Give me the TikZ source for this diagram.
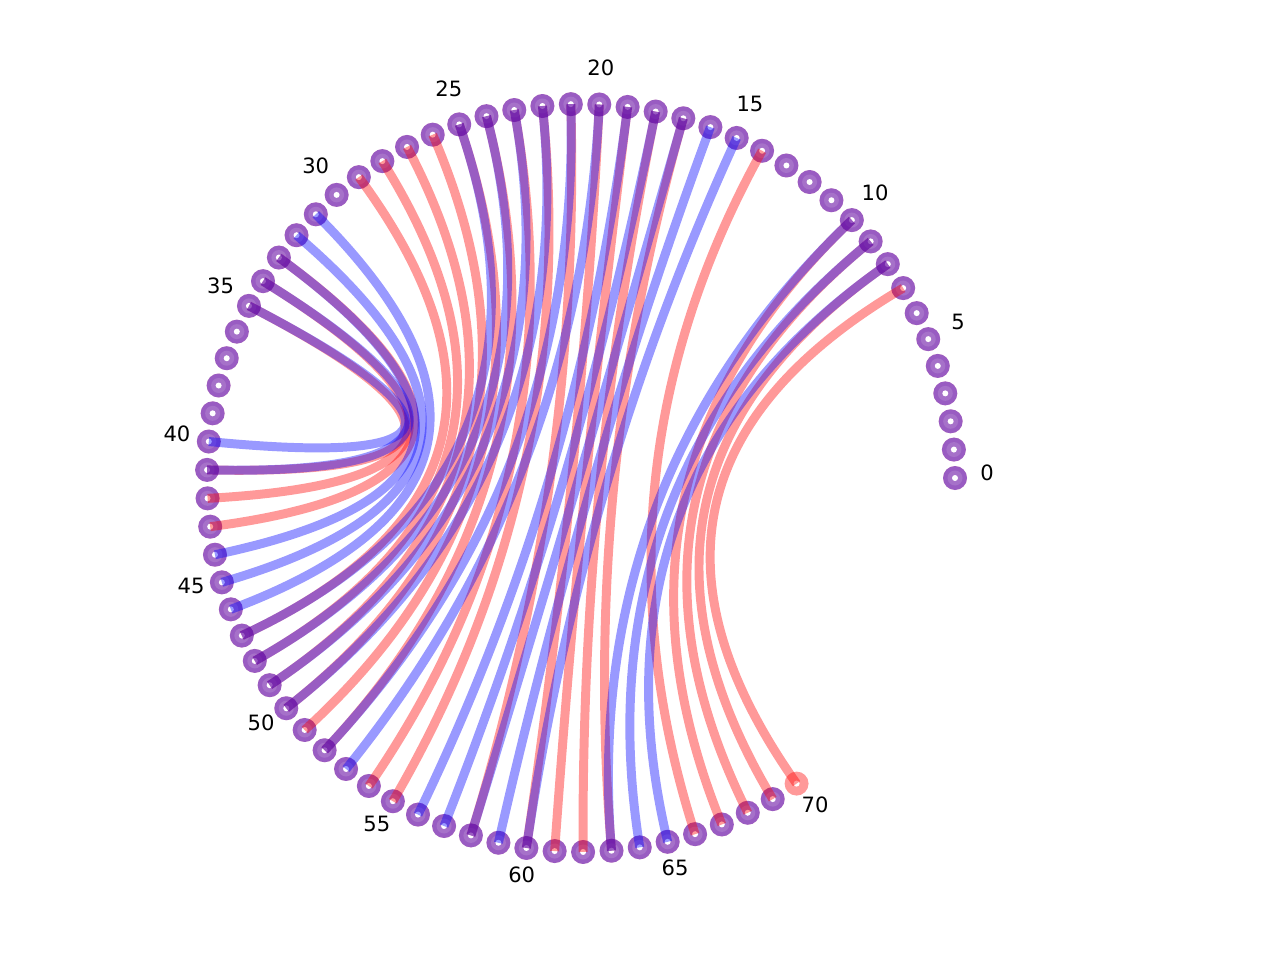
\documentclass[tikz,border=0pt]{standalone}
\usepackage{fontspec}
\setmainfont{DejaVu Sans}
\usetikzlibrary{calc}

\begin{document}
\begin{tikzpicture}[
  redch/.style={line width=5.1pt, draw=red, draw opacity=0.4},
  bluech/.style={line width=5.1pt, draw=blue, draw opacity=0.4},
  lbl/.style={font=\fontsize{12}{14}\selectfont, inner sep=0pt}
]
\useasboundingbox (0,0) rectangle (25.6,-19.2);
\coordinate (c) at (11.62,-9.56);
% Positions on the circle
\foreach \k in {0,...,70}
  \coordinate (p\k) at ($(c)+({\k*4.36}:7.48)$);
% Rings
\foreach \k in {0,...,70}
  \fill[red, opacity=0.4] (p\k) circle (0.24);
\foreach \k in {0,...,69} {
  \fill[blue, opacity=0.4] (p\k) circle (0.24);
  \fill[white, opacity=0.13] (p\k) circle (0.15);
}
\foreach \k in {0,...,70}
  \fill[white] (p\k) circle (0.06);
% Labels
\foreach \k in {0,5,...,70}
  \node[lbl] (l\k) at ($(11.62,-9.46)+({\k*4.36}:8.12)$) {\k};
% Red pairs
\foreach \a/\b in {7/70, 8/69, 9/68, 10/67, 14/66, 17/63, 18/62, 19/61, 20/60,
    21/58, 22/55, 23/54, 24/52, 25/51, 26/50, 27/49, 28/48, 29/47,
    33/43, 34/42, 35/41}
  \draw[redch] (p\a) .. controls ($(p\a)!2/3!(c)$) and ($(p\b)!2/3!(c)$) .. (p\b);
% Blue pairs
\foreach \a/\b in {8/65, 9/64, 10/63, 15/60, 16/59, 17/58, 18/57, 19/56, 20/53,
    21/52, 22/50, 23/49, 24/48, 25/47, 31/46, 32/45, 33/44, 34/41, 35/40}
  \draw[bluech] (p\a) .. controls ($(p\a)!2/3!(c)$) and ($(p\b)!2/3!(c)$) .. (p\b);
\end{tikzpicture}
\end{document}
